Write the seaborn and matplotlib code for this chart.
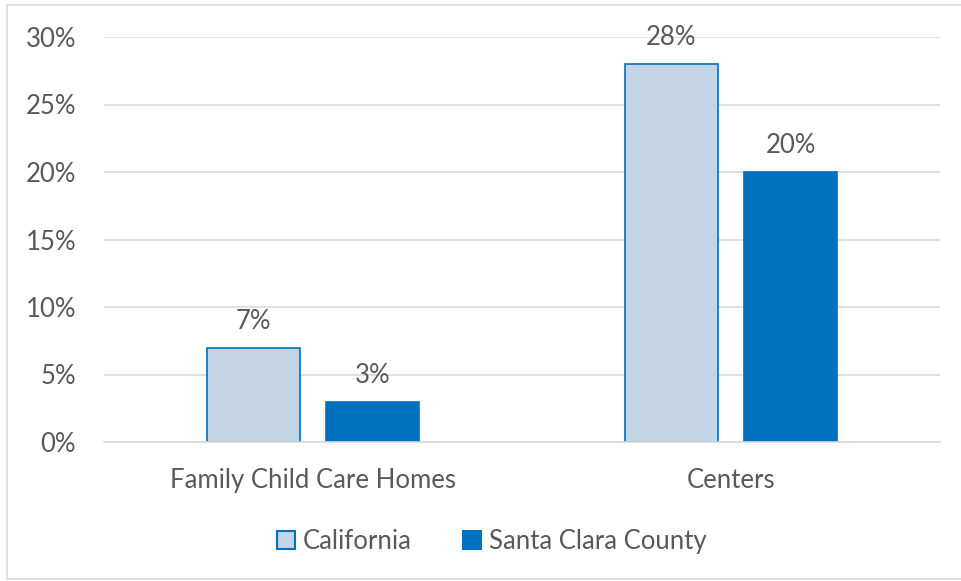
import pandas as pd
import seaborn as sns
import matplotlib.pyplot as plt
from matplotlib.patches import Rectangle
from matplotlib.ticker import FuncFormatter

categories = ['Family Child Care Homes', 'Centers']
series = ['California', 'Santa Clara County']
california = [7, 28]
santa_clara = [3, 20]

df = pd.DataFrame({
    'category': categories * 2,
    'series': [series[0]] * 2 + [series[1]] * 2,
    'value': california + santa_clara,
})

sns.set_style('white')
plt.rcParams['font.family'] = ['Lato', 'DejaVu Sans']
text_col = '#595959'
palette = {'California': '#C2D4E6', 'Santa Clara County': '#0070C0'}
fs = 18.5

fig = plt.figure(figsize=(9.61, 5.81), dpi=100)
ax = fig.add_axes([104 / 961, 1 - 442 / 581, (940 - 104) / 961, (442 - 37) / 581])

sns.barplot(data=df, x='category', y='value', hue='series', palette=palette,
            width=0.57, gap=0.22, saturation=1, ax=ax, legend=True)

for patch in ax.patches:
    patch.set_edgecolor('#0070C0')
    patch.set_linewidth(1.2)

for cont in ax.containers:
    ax.bar_label(cont, labels=[f'{v:.0f}%' for v in cont.datavalues],
                 padding=10, fontsize=fs, color=text_col)

ax.set_ylim(0, 30)
ax.set_xlim(-0.5, 1.5)
ax.set_yticks(range(0, 31, 5))
ax.yaxis.set_major_formatter(FuncFormatter(lambda v, p: f'{v:.0f}%'))
ax.grid(axis='y', color='#D9D9D9', linewidth=1.2)
ax.set_axisbelow(True)
for s in ['top', 'right', 'left']:
    ax.spines[s].set_visible(False)
ax.spines['bottom'].set_color('#D9D9D9')
ax.spines['bottom'].set_linewidth(1.2)
ax.tick_params(axis='both', length=0, labelsize=fs, colors=text_col)
ax.tick_params(axis='y', pad=20)
ax.tick_params(axis='x', pad=19)
ax.set_xlabel('')
ax.set_ylabel('')

handles, labels = ax.get_legend_handles_labels()
for h in handles:
    h.set_edgecolor('#0070C0')
    h.set_linewidth(1.5)
ax.legend(handles, labels, loc='center', bbox_to_anchor=(0.464, -0.245), ncol=2,
          frameon=False, fontsize=fs, labelcolor=text_col, handlelength=0.7,
          handleheight=0.7, handletextpad=0.3, columnspacing=2.0)

fig.patches.append(Rectangle((7 / 961, 2 / 581), 960 / 961, 574 / 581,
                             transform=fig.transFigure, fill=False,
                             edgecolor='#D9D9D9', linewidth=1.2))

plt.savefig('out.png', dpi=100)
